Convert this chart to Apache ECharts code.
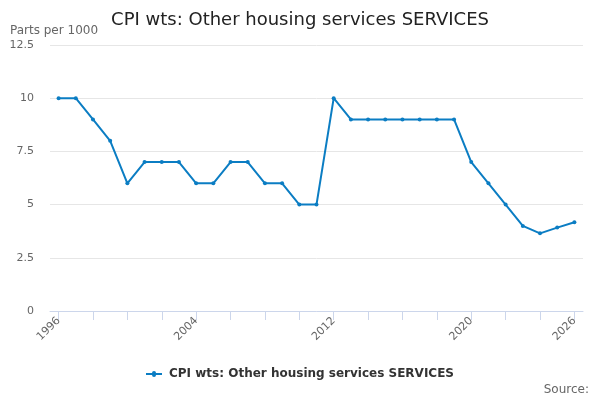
<!DOCTYPE html>
<html>
<head>
    <meta charset="utf-8">
    <title>ECharts</title>
    <script src="https://cdn.jsdelivr.net/npm/echarts@6/dist/echarts.min.js" type="text/javascript"></script>
</head>
<body style="margin:0">
<div id="div1" style="width: 600px;height:400px;"></div>
<script type="text/javascript">
    var years = [];
    for (var y = 1996; y <= 2026; y++) years.push(String(y));
    var labelYears = ['1996', '2004', '2012', '2020', '2026'];
    var weights = [10, 10, 9, 8, 6, 7, 7, 7, 6, 6, 7, 7, 6, 6, 5, 5,
        10, 9, 9, 9, 9, 9, 9, 9, 7, 6, 5, 4, 3.65, 3.92, 4.17];

    var myChart1 = echarts.init(document.getElementById('div1'));
    var option1 = {
        textStyle: { fontFamily: 'DejaVu Sans' },
        title: {
            text: 'CPI wts: Other housing services SERVICES',
            left: 'center', top: 6,
            textStyle: { fontSize: 18, fontWeight: 'normal', color: '#222' }
        },
        grid: { left: 50, right: 17, top: 45, bottom: 89 },
        legend: {
            bottom: 15, left: 'center',
            icon: 'path://M0,4 L6,4 A2,2 0 1 1 10,4 L16,4 L16,6 L10,6 A2,2 0 1 1 6,6 L0,6 Z',
            itemWidth: 20, itemHeight: 6,
            textStyle: { fontSize: 12, fontWeight: 'bold', color: '#333' }
        },
        graphic: [
            { type: 'text', left: 10, top: 25, style: { text: 'Parts per 1000', fontSize: 12, fill: '#666', fontFamily: 'DejaVu Sans' } },
            { type: 'text', right: 11, top: 384, style: { text: 'Source:', fontSize: 12, fill: '#666', fontFamily: 'DejaVu Sans' } }
        ],
        xAxis: {
            type: 'category',
            data: years,
            boundaryGap: true,
            axisLine: { lineStyle: { color: '#ccd6eb' } },
            axisTick: {
                show: true,
                alignWithLabel: true, length: 9,
                interval: function (i) { return i % 2 === 0; },
                lineStyle: { color: '#ccd6eb' }
            },
            axisLabel: {
                interval: function (i, v) { return labelYears.indexOf(v) >= 0; },
                rotate: 45, color: '#666', fontSize: 11, margin: 8
            }
        },
        yAxis: {
            type: 'value',
            min: 0, max: 12.5, interval: 2.5,
            axisLabel: { color: '#666', fontSize: 11, margin: 16 },
            splitLine: { lineStyle: { color: '#e6e6e6' } }
        },
        series: [{
            name: 'CPI wts: Other housing services SERVICES',
            type: 'line',
            data: weights,
            color: '#0b7dc3',
            symbol: 'circle',
            symbolSize: 4,
            lineStyle: { width: 2 }
        }]
    };
    myChart1.setOption(option1);
</script>
</body>
</html>
